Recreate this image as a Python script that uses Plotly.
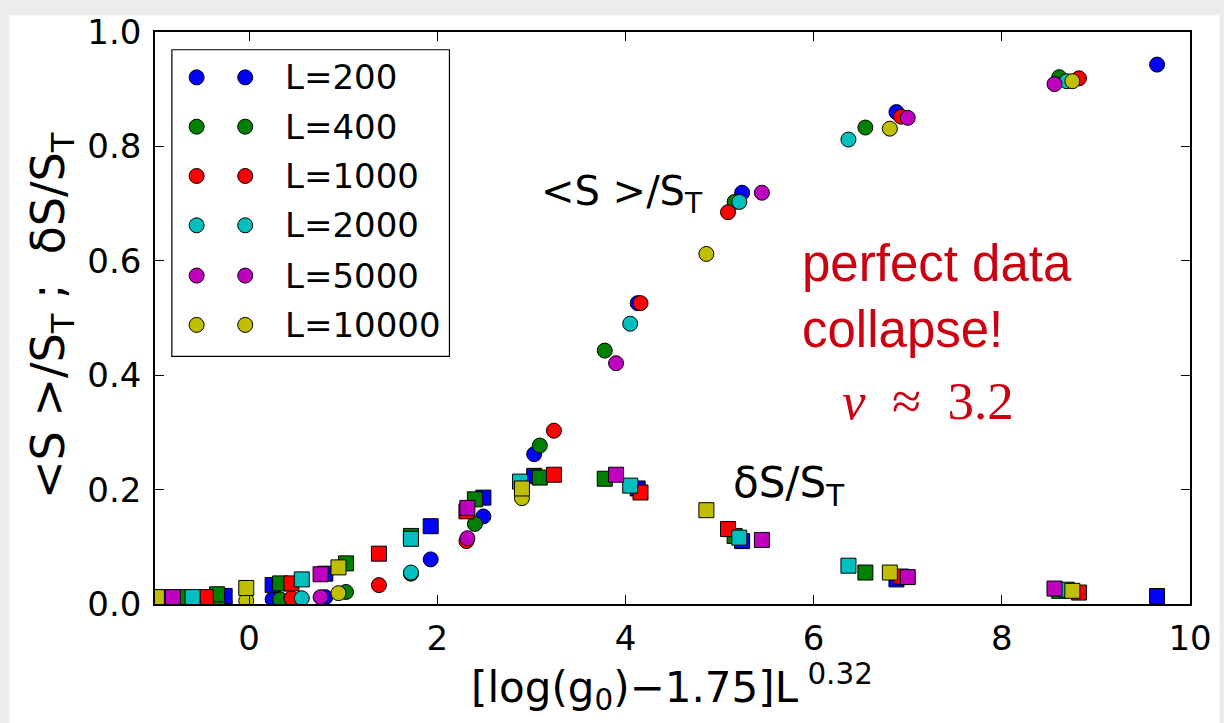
import plotly.graph_objects as go

# ---------------- data ----------------
L_values = [200, 400, 1000, 2000, 5000, 10000]
colors = ['#0000ff', '#008000', '#ff0000', '#00bfbf', '#bf00bf', '#bfbf00']

# scaling variable [log(g0)-1.75] L^0.32 for each L
x_L200 = [-0.26, 0.25, 0.81, 1.93, 2.49, 3.03, 4.13, 5.24, 6.88, 9.65]
x_L400 = [-0.71, -0.34, 0.33, 1.03, 1.72, 2.40, 3.09, 3.78, 5.16, 6.55, 8.61]
x_L1000 = [-0.92, -0.46, 0.45, 1.38, 2.31, 3.24, 4.16, 5.09, 6.93, 8.82]
x_L2000 = [-0.60, 0.56, 1.72, 2.88, 4.05, 5.21, 6.37, 8.69]
x_L5000 = [-0.81, 0.76, 2.32, 3.90, 5.45, 7.00, 8.56]
x_L10000 = [-0.98, -0.03, 0.95, 2.90, 4.86, 6.81, 8.75]

# <S>/S_T  (circles)
mean_L200 = [0.003, 0.008, 0.012, 0.078, 0.153, 0.262, 0.526, 0.719, 0.860, 0.943]
mean_L400 = [0.002, 0.003, 0.008, 0.021, 0.053, 0.140, 0.277, 0.443, 0.703, 0.833, 0.921]
mean_L1000 = [0.002, 0.004, 0.010, 0.033, 0.110, 0.303, 0.526, 0.685, 0.852, 0.919]
mean_L2000 = [0.003, 0.010, 0.055, 0.210, 0.490, 0.703, 0.812, 0.914]
mean_L5000 = [0.003, 0.012, 0.115, 0.421, 0.719, 0.850, 0.909]
mean_L10000 = [0.003, 0.006, 0.019, 0.185, 0.612, 0.831, 0.914]

# dS/S_T  (squares)
dev_L200 = [0.014, 0.033, 0.053, 0.136, 0.186, 0.224, 0.202, 0.110, 0.043, 0.014]
dev_L400 = [0.012, 0.017, 0.036, 0.071, 0.119, 0.183, 0.221, 0.219, 0.119, 0.055, 0.023]
dev_L1000 = [0.012, 0.012, 0.036, 0.088, 0.162, 0.226, 0.195, 0.131, 0.048, 0.020]
dev_L2000 = [0.012, 0.043, 0.114, 0.214, 0.207, 0.116, 0.067, 0.025]
dev_L5000 = [0.012, 0.052, 0.168, 0.226, 0.112, 0.047, 0.027]
dev_L10000 = [0.012, 0.028, 0.064, 0.202, 0.164, 0.055, 0.023]

x_ticks = [0, 2, 4, 6, 8, 10]
y_ticks = [0.0, 0.2, 0.4, 0.6, 0.8, 1.0]

xs = [x_L200, x_L400, x_L1000, x_L2000, x_L5000, x_L10000]
means = [mean_L200, mean_L400, mean_L1000, mean_L2000, mean_L5000, mean_L10000]
devs = [dev_L200, dev_L400, dev_L1000, dev_L2000, dev_L5000, dev_L10000]

# ---------------- figure ----------------
W, H = 1224, 723
ML, MR, MT, MB = 155, 25, 24, 119
PW, PH = W - ML - MR, H - MT - MB

def px2paper_x(px):
    return (px - ML) / PW

def px2paper_y(py):
    return (H - MB - py) / PH

FONT = 'DejaVu Sans'
RED = '#cc0011'
fig = go.Figure()

for L, c, x, m, d in zip(L_values, colors, xs, means, devs):
    fig.add_trace(go.Scatter(x=x, y=m, mode='markers', name=f'L={L}',
                             marker=dict(symbol='circle', size=15, color=c,
                                         line=dict(color='black', width=1)),
                             showlegend=False, hoverinfo='skip'))
    fig.add_trace(go.Scatter(x=x, y=d, mode='markers', name=f'L={L}',
                             marker=dict(symbol='square', size=15, color=c,
                                         line=dict(color='black', width=1)),
                             showlegend=False, hoverinfo='skip'))

shapes = []
annotations = []

# slide-like background strip (top/left)
shapes.append(dict(type='rect', xref='paper', yref='paper', layer='below',
                   x0=px2paper_x(8), x1=px2paper_x(W + 5),
                   y0=px2paper_y(H + 5), y1=px2paper_y(7),
                   fillcolor='white', line=dict(width=0)))

# custom legend (two markers per entry, like matplotlib numpoints=2)
shapes.append(dict(type='rect', xref='paper', yref='paper',
                   x0=px2paper_x(172), x1=px2paper_x(452),
                   y0=px2paper_y(353), y1=px2paper_y(42),
                   fillcolor='white', line=dict(color='black', width=1.2)))
row_y = [70, 120, 170, 220, 271, 321]
for L, c, ry in zip(L_values, colors, row_y):
    for mx in (197, 246):
        shapes.append(dict(type='circle', xref='paper', yref='paper',
                           xsizemode='pixel', ysizemode='pixel',
                           xanchor=px2paper_x(mx), yanchor=px2paper_y(ry),
                           x0=-7.5, x1=7.5, y0=-7.5, y1=7.5,
                           fillcolor=c, line=dict(color='black', width=1)))
    annotations.append(dict(xref='paper', yref='paper', x=px2paper_x(284), y=px2paper_y(ry),
                            xanchor='left', yanchor='middle', showarrow=False,
                            text=f'L={L}', font=dict(family=FONT, size=34, color='black')))

# curve labels
annotations.append(dict(x=3.96, y=0.716, xref='x', yref='y', showarrow=False,
                        text='&lt;S &gt;/S<sub>T</sub>',
                        font=dict(family=FONT, size=40, color='black')))
annotations.append(dict(x=5.74, y=0.207, xref='x', yref='y', showarrow=False,
                        text='δS/S<sub>T</sub>',
                        font=dict(family=FONT, size=42, color='black')))
annotations.append(dict(x=5.85, y=0.538, xref='x', yref='y', showarrow=False,
                        xanchor='left', yanchor='middle', align='left',
                        text='perfect data<br>collapse!',
                        font=dict(family='Liberation Sans', size=51, color=RED)))
annotations.append(dict(x=7.22, y=0.355, xref='x', yref='y', showarrow=False,
                        text='<i>ν</i>&nbsp;&nbsp;≈&nbsp;&nbsp;3.2',
                        font=dict(family='Liberation Serif', size=53, color=RED)))

# axis titles
annotations.append(dict(xref='paper', yref='paper', x=px2paper_x(676), y=px2paper_y(688),
                        showarrow=False, xanchor='center', yanchor='middle',
                        text='[log(g<sub>0</sub>)−1.75]L<sup> 0.32</sup>',
                        font=dict(family=FONT, size=42, color='black')))
annotations.append(dict(xref='paper', yref='paper', x=px2paper_x(50), y=px2paper_y(311),
                        showarrow=False, xanchor='center', yanchor='middle', textangle=-90,
                        text='&lt;S &gt;/S<sub>T</sub> ;&nbsp;&nbsp;δS/S<sub>T</sub>',
                        font=dict(family=FONT, size=46, color='black')))

axis_common = dict(showgrid=False, zeroline=False, showline=True, linecolor='black',
                   linewidth=1.5, mirror='ticks', ticks='inside', ticklen=9,
                   tickwidth=1.2, tickcolor='black',
                   tickfont=dict(family=FONT, size=34, color='black'))

fig.update_layout(
    width=W, height=H, autosize=False,
    margin=dict(l=ML, r=MR, t=MT, b=MB, pad=0),
    paper_bgcolor='#ececec', plot_bgcolor='white',
    showlegend=False, hovermode=False,
    xaxis=dict(range=[-1, 10], tickvals=x_ticks, ticktext=[str(v) for v in x_ticks],
               ticklabelstandoff=3, **axis_common),
    yaxis=dict(range=[0, 1], tickvals=y_ticks, ticktext=[f'{v:.1f}' for v in y_ticks],
               ticklabelstandoff=5, **axis_common),
    shapes=shapes, annotations=annotations,
)

fig.write_html('out.html', config={'displayModeBar': False},
               post_script="document.documentElement.style.margin='0';"
                           "document.body.style.margin='0';document.body.style.padding='0';"
                           "document.body.style.overflow='hidden';"
                           "document.documentElement.style.overflow='hidden';")
